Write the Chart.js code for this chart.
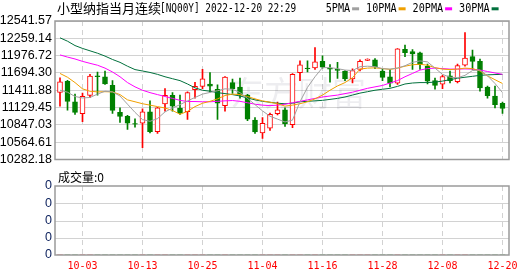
<!DOCTYPE html>
<html>
<head>
<meta charset="utf-8">
<script src="https://cdn.jsdelivr.net/npm/chart.js@4.4.1/dist/chart.umd.min.js"></script>
<style>
  html, body { margin: 0; padding: 0; background: #fff; }
  #wrap { position: relative; width: 530px; height: 276px; overflow: hidden; }
  #kline { position: absolute; left: 0; top: 0; }
  #vol { position: absolute; left: 0; top: 170px; }
</style>
</head>
<body>
<div id="wrap">
  <canvas id="kline" width="530" height="170"></canvas>
  <canvas id="vol" width="530" height="106"></canvas>
</div>
<script>
// Trading days shown on the chart
const dates = ['09-28','09-29','09-30','10-03','10-04','10-05','10-06','10-07','10-10','10-11',
  '10-12','10-13','10-14','10-17','10-18','10-19','10-20','10-21','10-24','10-25',
  '10-26','10-27','10-28','10-31','11-01','11-02','11-03','11-04','11-07','11-08',
  '11-09','11-10','11-11','11-14','11-15','11-16','11-17','11-18','11-21','11-22',
  '11-23','11-24','11-25','11-28','11-29','11-30','12-01','12-02','12-05','12-06',
  '12-07','12-08','12-09','12-12','12-13','12-14','12-15','12-16','12-19','12-20'];

// Daily candles
const opens = [11375.2,11558.3,11223.6,11030.1,11328.2,11647.2,11631.5,11490.3,11051.0,10988.2,
  10867.9,10873.2,11061.4,10737.2,11187.0,11328.2,11119.0,11061.4,11422.3,11474.6,
  11511.3,11427.5,11160.8,11537.4,11464.2,11333.4,10925.5,10716.3,10794.7,11030.1,
  11092.9,10852.3,11699.5,11772.7,11778.0,11882.6,11767.5,11751.8,11720.5,11594.9,
  11751.8,11898.2,11908.7,11725.7,11631.5,11526.9,12081.3,12044.7,12023.8,11804.1,
  11568.8,11511.3,11647.2,11553.1,11819.8,11961.0,11882.6,11464.2,11317.7,11197.5];
const highs = [11615.8,11574.0,11349.1,11364.8,11673.4,11710.0,11725.7,11568.8,11124.2,11004.0,
  10946.4,11108.6,11239.3,11134.7,11438.0,11375.2,11333.4,11385.7,11542.6,11751.8,
  11699.5,11500.8,11636.8,11594.9,11610.6,11343.9,10967.3,10967.3,11040.5,11218.4,
  11124.2,11683.8,11893.0,11893.0,12107.5,11971.5,11830.3,11866.9,11730.9,11762.3,
  11908.7,11924.4,11929.6,11751.8,11751.8,12091.8,12149.3,12076.1,12034.2,11840.7,
  11610.6,11657.7,11725.7,11840.7,12353.3,12065.6,11919.2,11479.9,11479.9,11218.4];
const lows = [11150.3,11087.6,11019.6,10899.3,11291.6,11333.4,11506.0,11035.3,10888.9,10773.8,
  10810.4,10475.7,10716.3,10705.8,11071.9,11071.9,11019.6,10935.9,11281.1,11438.0,
  11385.7,10935.9,11071.9,11359.6,11281.1,10915.0,10705.8,10627.4,10758.1,11009.1,
  10820.9,10800.0,11568.8,11710.0,11751.8,11772.7,11542.6,11605.4,11568.8,11532.2,
  11725.7,11893.0,11762.3,11568.8,11464.2,11506.0,11961.0,11751.8,11751.8,11516.5,
  11427.5,11438.0,11532.2,11532.2,11804.1,11751.8,11396.2,11281.1,11124.2,11035.3];
const closes = [11547.8,11228.8,11051.0,11312.5,11642.0,11631.5,11516.5,11082.4,10983.0,10873.2,
  10857.5,11061.4,10737.2,11124.2,11328.2,11150.4,11045.8,11375.2,11474.6,11600.1,
  11479.9,11202.7,11626.3,11438.0,11333.4,10941.2,10732.0,10873.2,11019.6,11092.9,
  10862.7,11673.4,11825.0,11762.3,11877.4,11788.4,11757.1,11736.1,11594.9,11730.9,
  11882.6,11919.2,11793.7,11621.1,11526.9,12086.6,12023.8,12002.9,11830.3,11558.3,
  11490.3,11636.8,11568.8,11814.6,11934.9,11882.6,11448.5,11322.9,11176.5,11114.0];

// Moving averages
const ma5 = [11412,11380,11310,11286,11294,11349,11396,11385,11318,11184,
  11051,10933,10905,10949,11059,11122,11177,11239,11294,11349,
  11376,11404,11435,11428,11373,11279,11177,11075,10988,10941,
  10894,10925,11224,11459,11632,11781,11781,11765,11741,11734,
  11796,11804,11796,11765,11757,11773,11812,11867,11890,11875,
  11773,11671,11624,11616,11655,11734,11741,11647,11522,11373];
const ma10 = [11686,11624,11537,11435,11396,11385,11388,11385,11341,11255,
  11224,11192,11169,11145,11122,11082,11020,11067,11145,11200,
  11231,11271,11326,11349,11341,11310,11271,11239,11216,11192,
  11153,11169,11192,11224,11271,11333,11412,11482,11537,11616,
  11757,11773,11777,11765,11752,11773,11804,11828,11836,11820,
  11781,11757,11749,11757,11773,11765,11726,11647,11584,11522];
const ma20 = [11988,11953,11922,11883,11851,11820,11773,11710,11632,11537,
  11467,11412,11373,11341,11310,11279,11247,11228,11228,11224,
  11224,11231,11239,11244,11231,11208,11184,11169,11161,11169,
  11184,11208,11231,11255,11279,11302,11318,11333,11357,11380,
  11412,11443,11467,11490,11530,11569,11632,11686,11741,11765,
  11773,11765,11757,11757,11760,11757,11741,11718,11694,11671];
const ma30 = [12267,12212,12141,12094,12055,12016,11969,11914,11867,11804,
  11749,11726,11702,11671,11632,11600,11569,11514,11451,11412,
  11396,11373,11357,11341,11318,11286,11255,11231,11216,11200,
  11192,11200,11224,11231,11239,11247,11263,11279,11302,11333,
  11365,11388,11412,11428,11443,11475,11514,11530,11537,11537,
  11545,11561,11584,11608,11624,11639,11655,11663,11668,11671];

// Volume (all zero in this feed)
const volumes = [0,0,0,0,0,0,0,0,0,0, 0,0,0,0,0,0,0,0,0,0, 0,0,0,0,0,0,0,0,0,0,
  0,0,0,0,0,0,0,0,0,0, 0,0,0,0,0,0,0,0,0,0, 0,0,0,0,0,0,0,0,0,0];

// Axis labels
const yTicks = [10282.18,10564.61,10847.03,11129.45,11411.88,11694.30,11976.72,12259.14,12541.57];
const volTicks = ['0','0','0','0','0'];
const xLabelDates = ['10-03','10-13','10-25','11-04','11-16','11-28','12-08','12-20'];
const maNames = ['5PMA','10PMA','20PMA','30PMA'];

const titleName = '小型纳指当月连续';
const titleCode = '[NQ00Y] 2022-12-20 22:29';
const volTitle = '成交量:0';
const watermark = '东方财富';

// Styles
const RED = '#ff0000';
const GREEN = '#008000';
const maColors = ['#a0a0a0', '#f0a000', '#ff00ff', '#00703c'];
const GRID = '#d2d2d2';
const FRAME = '#9a9a9a';
const VOL_LABEL = '#0a1f5c';
const xMin = -0.667, xMax = 59.867;

const labelIdx = xLabelDates.map(d => dates.indexOf(d));
const isUp = opens.map((o, i) => closes[i] >= o);

// Draw text in a narrow monospace look (like the bitmap font in the original)
function monoText(ctx, text, x, y, advance, color) {
  ctx.save();
  ctx.font = '12px "DejaVu Sans Mono"';
  const w = ctx.measureText('0').width;
  ctx.fillStyle = color;
  ctx.textBaseline = 'middle';
  ctx.textAlign = 'left';
  ctx.translate(x, y);
  ctx.scale(advance / w, 1);
  ctx.fillText(text, 0, 0);
  ctx.restore();
}

const klineDecor = {
  id: 'klineDecor',
  beforeDatasetsDraw(chart) {
    const ctx = chart.ctx;
    ctx.save();
    ctx.font = '34px "Noto Sans CJK SC"';
    ctx.fillStyle = 'rgba(20,20,60,0.075)';
    ctx.textBaseline = 'middle';
    ctx.fillText(watermark, 230, 93);
    ctx.restore();
  },
  afterDraw(chart) {
    const ctx = chart.ctx;
    const a = chart.chartArea;
    ctx.save();
    ctx.strokeStyle = FRAME;
    ctx.lineWidth = 1.5;
    ctx.strokeRect(a.left, a.top, a.right - a.left, a.bottom - a.top);

    // title
    ctx.font = '13px "Noto Sans CJK SC"';
    ctx.fillStyle = '#000';
    ctx.textBaseline = 'middle';
    ctx.fillText(titleName, 57, 8.5);
    ctx.restore();
    monoText(ctx, titleCode, 160, 8.5, 5.67, '#000');

    // legend: name followed by a short colour dash
    let lx = 325.7;
    maNames.forEach((name, k) => {
      monoText(ctx, name, lx, 8.5, 6.1, '#000');
      const mx = lx + name.length * 6.1 + 2;
      ctx.fillStyle = maColors[k];
      ctx.fillRect(mx, 7.3, 7, 3);
      lx = mx + 14;
    });
  }
};

// Volume panel: horizontal guide lines + "0" labels, frame and caption
const volDecor = {
  id: 'volDecor',
  beforeDatasetsDraw(chart) {
    const ctx = chart.ctx;
    const a = chart.chartArea;
    const n = volTicks.length - 1;
    ctx.save();
    ctx.strokeStyle = GRID;
    ctx.lineWidth = 1;
    for (let k = 1; k < n; k++) {
      const y = Math.round(a.top + k * (a.bottom - a.top) / n) + 0.5;
      ctx.beginPath();
      ctx.moveTo(a.left, y);
      ctx.lineTo(a.right, y);
      ctx.stroke();
    }
    ctx.restore();
  },
  afterDraw(chart) {
    const ctx = chart.ctx;
    const a = chart.chartArea;
    const n = volTicks.length - 1;
    ctx.save();
    ctx.strokeStyle = FRAME;
    ctx.lineWidth = 1.5;
    ctx.strokeRect(a.left, a.top, a.right - a.left, a.bottom - a.top);

    ctx.font = '12.5px "Liberation Sans", Arial';
    ctx.fillStyle = VOL_LABEL;
    ctx.textAlign = 'right';
    ctx.textBaseline = 'middle';
    volTicks.forEach((t, k) => {
      ctx.fillText(t, a.left - 3, a.bottom - k * (a.bottom - a.top) / n);
    });

    ctx.font = '12px "Noto Sans CJK SC"';
    ctx.fillStyle = '#000';
    ctx.textAlign = 'left';
    ctx.fillText(volTitle, 58, 7);
    ctx.restore();
  }
};

const maLine = (vals, k) => ({
  type: 'line',
  label: maNames[k],
  data: vals.map((v, i) => ({ x: i, y: v })),
  borderColor: maColors[k],
  borderWidth: 1,
  pointRadius: 0,
  tension: 0,
  order: 0
});

new Chart(document.getElementById('kline'), {
  type: 'bar',
  data: {
    datasets: [
      maLine(ma5, 0), maLine(ma10, 1), maLine(ma20, 2), maLine(ma30, 3),
      {
        // candle bodies
        type: 'bar',
        data: opens.map((o, i) => ({ x: i, y: [o, closes[i]] })),
        backgroundColor: isUp.map(u => u ? '#ffffff' : GREEN),
        borderColor: isUp.map(u => u ? RED : GREEN),
        borderWidth: 1,
        borderSkipped: false,
        barThickness: 5,
        grouped: false,
        order: 1
      },
      {
        // wicks
        type: 'bar',
        data: lows.map((l, i) => ({ x: i, y: [l, highs[i]] })),
        backgroundColor: isUp.map(u => u ? RED : GREEN),
        borderWidth: 0,
        barThickness: 1,
        grouped: false,
        order: 2
      }
    ]
  },
  options: {
    responsive: false,
    animation: false,
    layout: { padding: { left: 0, right: 21, top: 21, bottom: 5 } },
    plugins: { legend: { display: false }, tooltip: { enabled: false } },
    scales: {
      x: {
        type: 'linear', min: xMin, max: xMax, offset: false,
        afterBuildTicks: s => { s.ticks = labelIdx.map(v => ({ value: v })); },
        ticks: { display: false, autoSkip: false },
        grid: { color: GRID, drawTicks: false, offset: false },
        border: { display: false, dash: [5, 4] }
      },
      y: {
        min: yTicks[0], max: yTicks[yTicks.length - 1],
        afterBuildTicks: s => { s.ticks = yTicks.map(v => ({ value: v })); },
        afterFit: s => { s.width = 55; },
        ticks: {
          color: '#000', padding: 3, autoSkip: false,
          font: { family: '"Liberation Sans", Arial', size: 12.5 },
          callback: v => v.toFixed(2)
        },
        grid: { color: GRID, drawTicks: false },
        border: { display: false }
      }
    }
  },
  plugins: [klineDecor]
});

new Chart(document.getElementById('vol'), {
  type: 'bar',
  data: {
    datasets: [{
      data: volumes.map((v, i) => ({ x: i, y: v })),
      backgroundColor: isUp.map(u => u ? RED : GREEN),
      barThickness: 5
    }]
  },
  options: {
    responsive: false,
    animation: false,
    layout: { padding: { left: 0, right: 21, top: 16, bottom: 0 } },
    plugins: { legend: { display: false }, tooltip: { enabled: false } },
    scales: {
      x: {
        type: 'linear', min: xMin, max: xMax, offset: false,
        afterBuildTicks: s => { s.ticks = labelIdx.map(v => ({ value: v })); },
        afterFit: s => { s.height = 21; },
        ticks: {
          color: RED, padding: 5, autoSkip: false, maxRotation: 0,
          font: { family: '"DejaVu Sans Mono"', size: 10 },
          callback: v => dates[v]
        },
        grid: { color: GRID, drawTicks: false, offset: false },
        border: { display: false, dash: [5, 4] }
      },
      y: {
        type: 'linear', min: 0, max: 4,
        afterFit: s => { s.width = 55; },
        ticks: { display: false },
        grid: { display: false },
        border: { display: false }
      }
    }
  },
  plugins: [volDecor]
});
</script>
</body>
</html>
